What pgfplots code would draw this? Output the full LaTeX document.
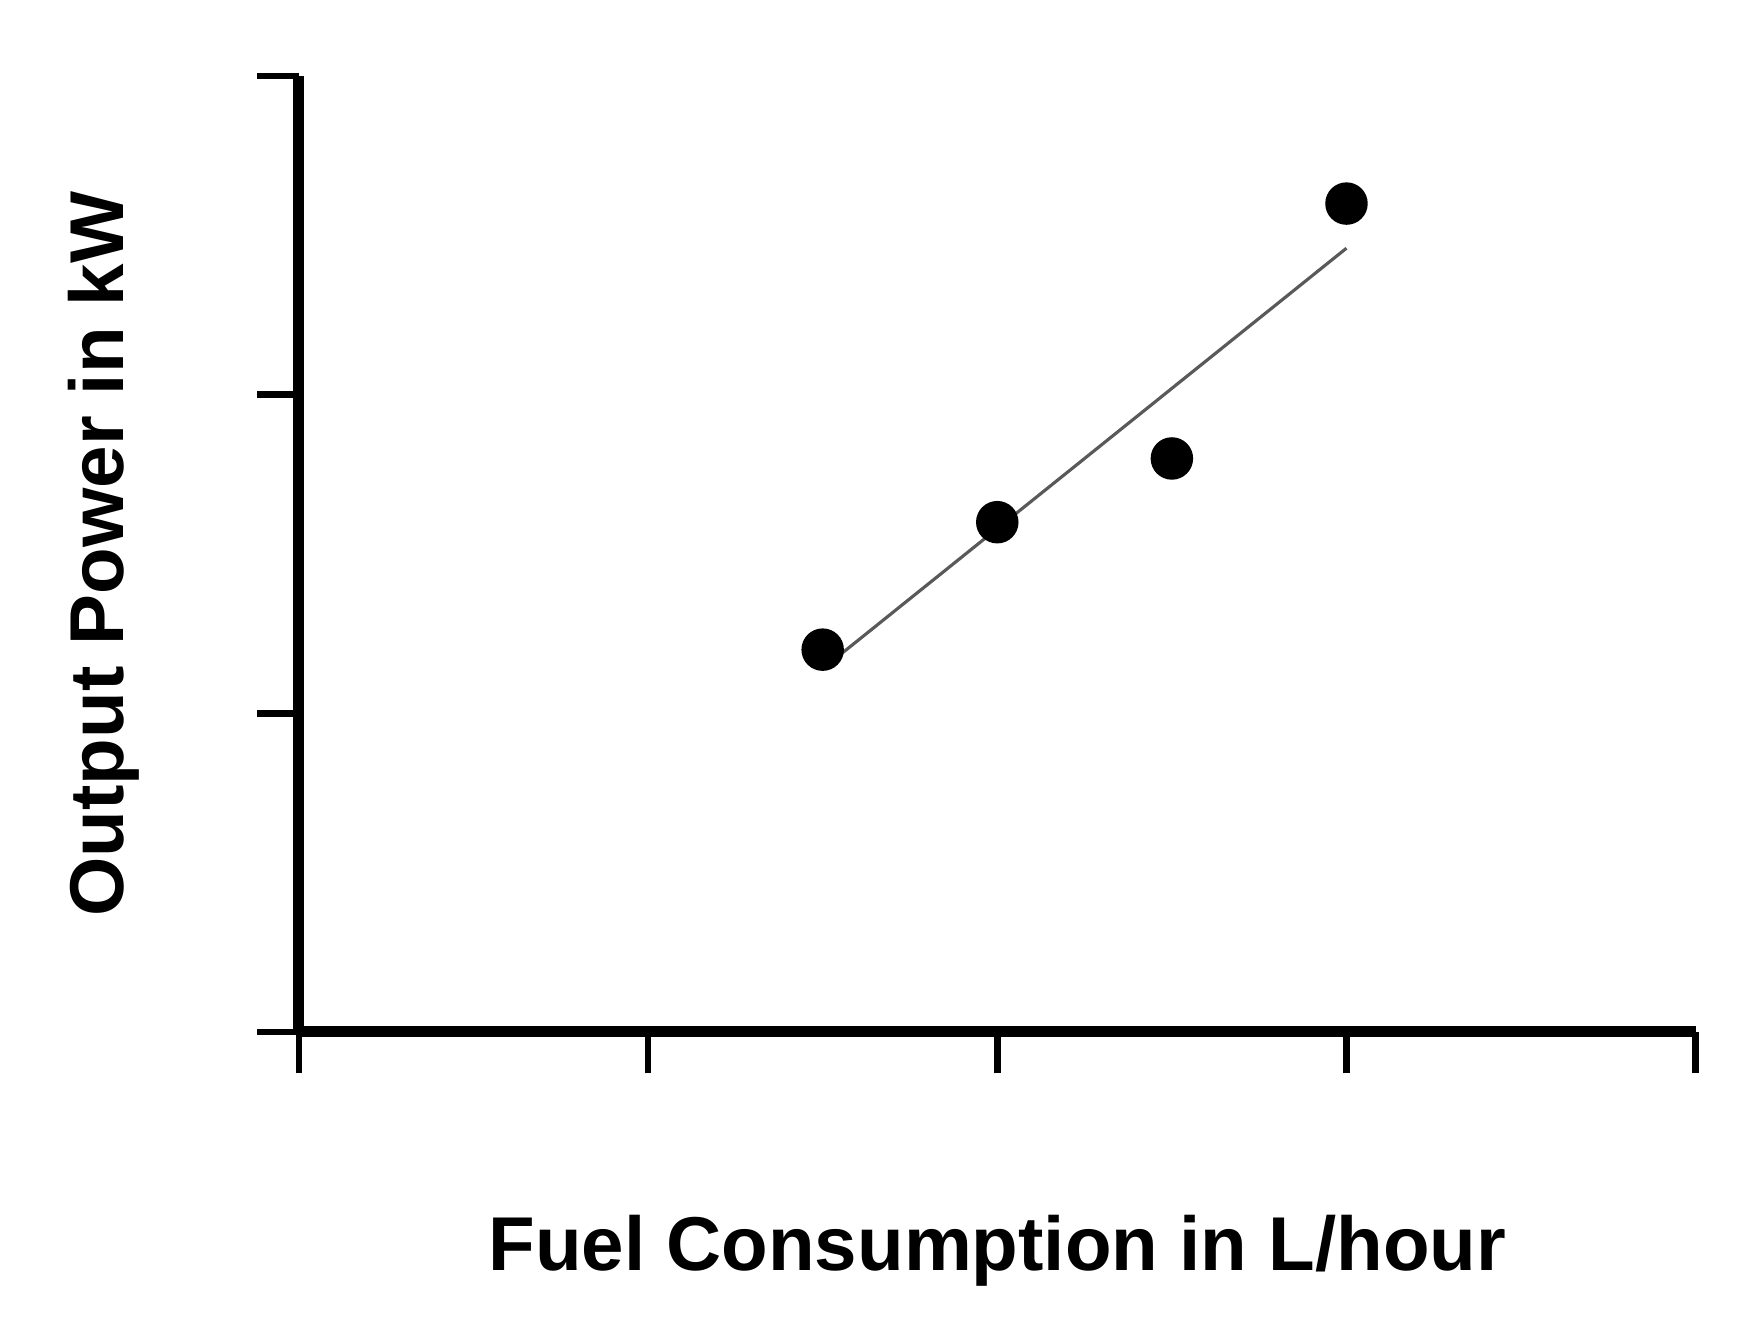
\documentclass[border=0pt]{standalone}
\usepackage{fontspec}
\setmainfont{Liberation Sans}
\usepackage{pgfplots}
\pgfplotsset{compat=1.18}

\begin{document}
\begin{tikzpicture}
\begin{axis}[
  scale only axis,
  width=12.48cm, height=8.54cm,
  at={(0,0)}, anchor=south west,
  xmin=0, xmax=4, ymin=0, ymax=3,
  axis x line*=bottom, axis y line*=left,
  xtick={0,1,2,3,4}, ytick={0,1,2,3},
  xticklabels={}, yticklabels={},
  tick align=outside,
  major tick length=0.37cm,
  tick style={line width=1.7pt, black},
  axis line style={line width=2.8pt, black},
  clip=false,
  label style={font=\fontsize{19.4}{23}\selectfont\bfseries},
  xlabel={Fuel Consumption in L/hour},
  xlabel style={at={(axis description cs:0.5,0)}, anchor=base, yshift=-2.13cm},
  ylabel={Output Power in kW},
  ylabel style={at={(axis description cs:-0.1258,0.5)}, anchor=base},
]
% linear fit
\addplot[draw=black!65, line width=0.8pt] coordinates {(1.5,1.14) (3,2.46)};
% measurements
\addplot[only marks, mark=*, mark size=5.2pt, black] coordinates {
  (1.5,1.2) (2,1.6) (2.5,1.8) (3,2.6)
};
\end{axis}
\path[use as bounding box] (-2.67,-2.60) rectangle (13.01,9.22);
\end{tikzpicture}
\end{document}
